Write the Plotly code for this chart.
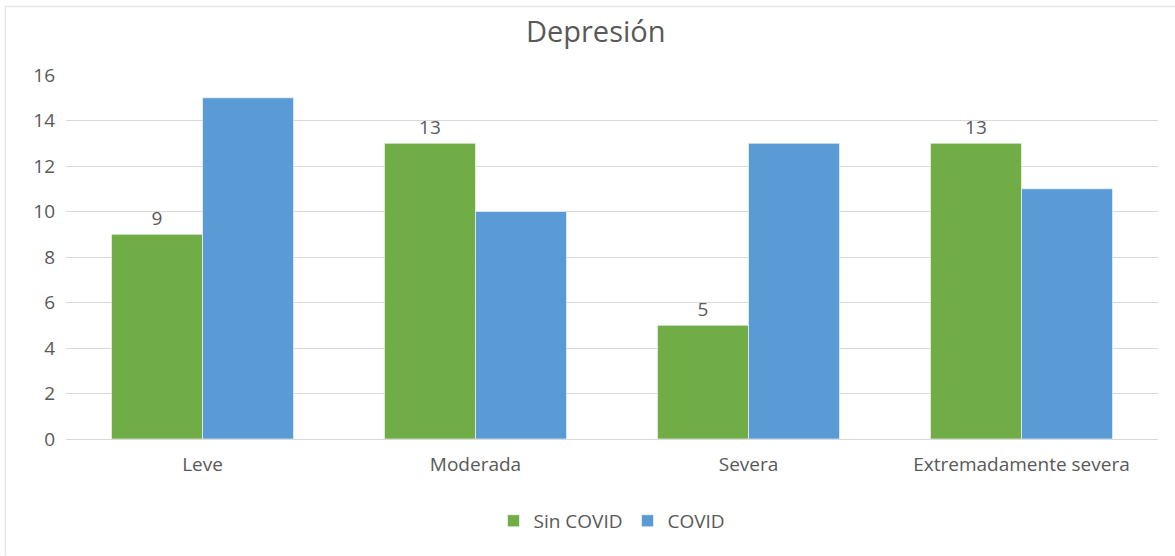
import plotly.graph_objects as go

categories = ["Leve", "Moderada", "Severa", "Extremadamente severa"]
sin_covid = [9, 13, 5, 13]
covid = [15, 10, 13, 11]
y_ticks = [0, 2, 4, 6, 8, 10, 12, 14, 16]

FONT = "Open Sans, Segoe UI, sans-serif"
GRAY = "#595959"

fig = go.Figure()
fig.add_trace(go.Bar(
    name="Sin COVID", x=categories, y=sin_covid,
    marker=dict(color="#70AD47", line=dict(color="#ffffff", width=0.6)),
    text=[str(v) for v in sin_covid], textposition="outside",
    textfont=dict(size=19, color=GRAY, family=FONT), cliponaxis=False,
))
fig.add_trace(go.Bar(
    name="COVID", x=categories, y=covid,
    marker=dict(color="#5B9BD5", line=dict(color="#ffffff", width=0.6)),
))

fig.update_layout(
    width=1175, height=556,
    margin=dict(l=66, r=17, t=75, b=117),
    paper_bgcolor="white", plot_bgcolor="white",
    font=dict(family=FONT, color=GRAY, size=19),
    title=dict(text="Depresión", x=0.507, xanchor="center", y=0.943, yanchor="middle",
               font=dict(size=29, color=GRAY, family=FONT)),
    barmode="group", bargap=0.333, bargroupgap=0,
    showlegend=True,
    legend=dict(orientation="h", x=0.5, xanchor="center", y=-0.225, yanchor="middle",
                font=dict(size=19, color=GRAY, family=FONT), itemwidth=30,
                traceorder="normal"),
    xaxis=dict(showgrid=False, ticks="", showline=False, ticklabelstandoff=12,
               tickfont=dict(size=19, color=GRAY, family=FONT)),
    yaxis=dict(range=[0, 16], tickvals=y_ticks, showgrid=True, gridcolor="#D9D9D9",
               gridwidth=1, zeroline=True, zerolinecolor="#D9D9D9", zerolinewidth=1,
               ticks="", ticklabelstandoff=10,
               tickfont=dict(size=19, color=GRAY, family=FONT)),
    shapes=[
        dict(type="line", xref="paper", yref="paper", x0=-0.0555, x1=1.02, y0=1.188, y1=1.188,
             line=dict(color="#E6E6E6", width=1.5)),
        dict(type="line", xref="paper", yref="paper", x0=-0.0555, x1=-0.0555, y0=1.188, y1=-0.32,
             line=dict(color="#E6E6E6", width=1.5)),
    ],
)

fig.write_html("out.html")
